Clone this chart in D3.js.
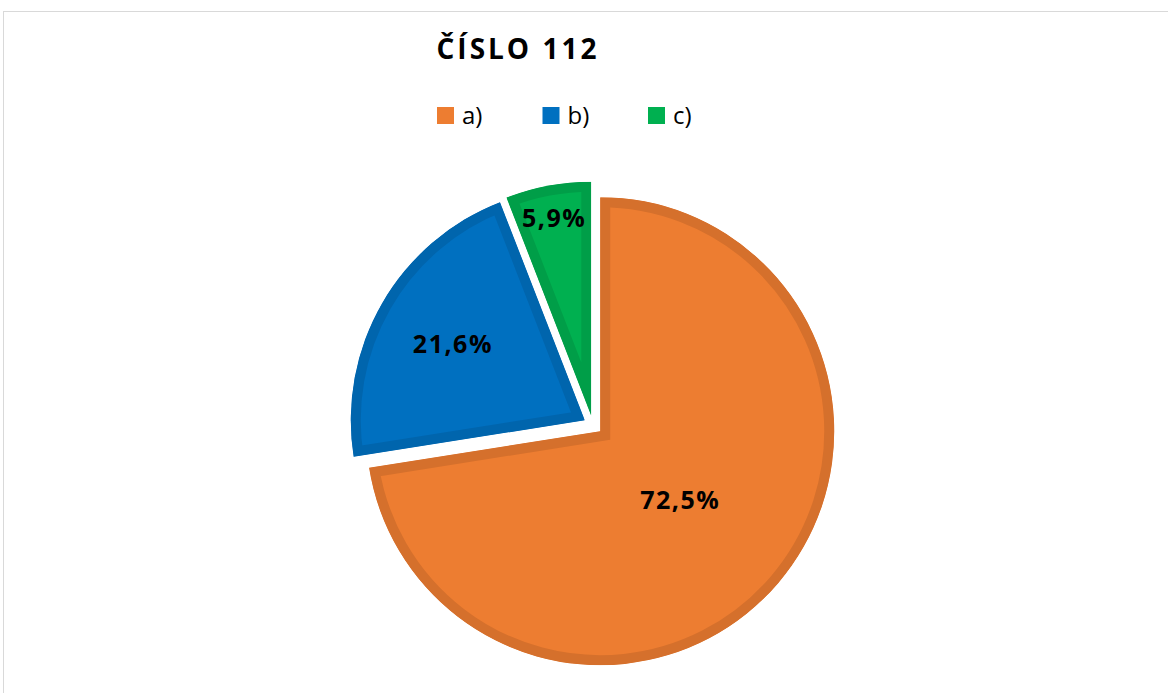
<!DOCTYPE html>
<html lang="en">
<head>
    <meta charset="utf-8">
    <script src="https://unpkg.com/d3@7/dist/d3.min.js"></script>
    <style>
        body { margin: 0; background: #fff; }
        svg { display: block; }
        text { font-family: "Open Sans", sans-serif; }
    </style>
</head>
<body>
    <div id="chart"></div>
    <script>
        // data
        const title = "ČÍSLO 112";
        const categories = ["a)", "b)", "c)"];
        const values = [72.5, 21.6, 5.9];
        const labels = ["72,5%", "21,6%", "5,9%"];

        const fills = ["#ED7D31", "#0070C0", "#00B050"];
        const strokes = ["#D5702C", "#0065AD", "#009E48"];
        // label distance from slice tip (fraction of radius)
        const labelPos = [0.45, 0.65, 0.86];

        const width = 1168, height = 693;
        const cx = 593, cy = 425, R = 234, sw = 10, explode = 9.5;

        const svg = d3.select("#chart").append("svg")
            .attr("width", width)
            .attr("height", height);

        // chart frame
        svg.append("rect")
            .attr("x", 3.5).attr("y", 11.5)
            .attr("width", 1300).attr("height", 900)
            .attr("fill", "none")
            .attr("stroke", "#d9d9d9");

        svg.append("text")
            .attr("x", 518).attr("y", 59)
            .attr("text-anchor", "middle")
            .style("font-size", "28px")
            .style("font-weight", "bold")
            .style("letter-spacing", "3px")
            .text(title);

        // legend
        const legend = svg.append("g").attr("transform", "translate(437,107)");
        const item = legend.selectAll("g")
            .data(categories)
            .join("g")
            .attr("transform", (d, i) => `translate(${i * 105.5},0)`);
        item.append("rect")
            .attr("width", 17).attr("height", 17)
            .attr("fill", (d, i) => fills[i]);
        item.append("text")
            .attr("x", 25).attr("y", 17)
            .style("font-size", "24px")
            .text(d => d);

        const pie = d3.pie().sort(null).value(d => d);
        const arcs = pie(values);
        const arc = d3.arc().innerRadius(0).outerRadius(R);

        const defs = svg.append("defs");
        defs.selectAll("clipPath")
            .data(arcs)
            .join("clipPath")
            .attr("id", (d, i) => "clip" + i)
            .append("path")
            .attr("d", arc);

        const slices = svg.append("g")
            .attr("transform", `translate(${cx},${cy})`)
            .selectAll("g")
            .data(arcs)
            .join("g")
            .attr("transform", d => {
                const a = (d.startAngle + d.endAngle) / 2;
                return `translate(${Math.sin(a) * explode},${-Math.cos(a) * explode})`;
            });

        // stroke kept inside the slice
        slices.append("path")
            .attr("d", arc)
            .attr("clip-path", (d, i) => `url(#clip${i})`)
            .attr("fill", (d, i) => fills[i])
            .attr("stroke", (d, i) => strokes[i])
            .attr("stroke-width", sw * 2)
            .attr("stroke-linejoin", "miter")
            .attr("stroke-miterlimit", 20);

        slices.append("text")
            .attr("transform", (d, i) => {
                const a = (d.startAngle + d.endAngle) / 2;
                const r = R * labelPos[i];
                return `translate(${Math.sin(a) * r},${-Math.cos(a) * r})`;
            })
            .attr("text-anchor", "middle")
            .attr("dy", "0.36em")
            .style("font-size", "25px")
            .style("font-weight", "bold")
            .style("letter-spacing", "1.5px")
            .text((d, i) => labels[i]);
    </script>
</body>
</html>
